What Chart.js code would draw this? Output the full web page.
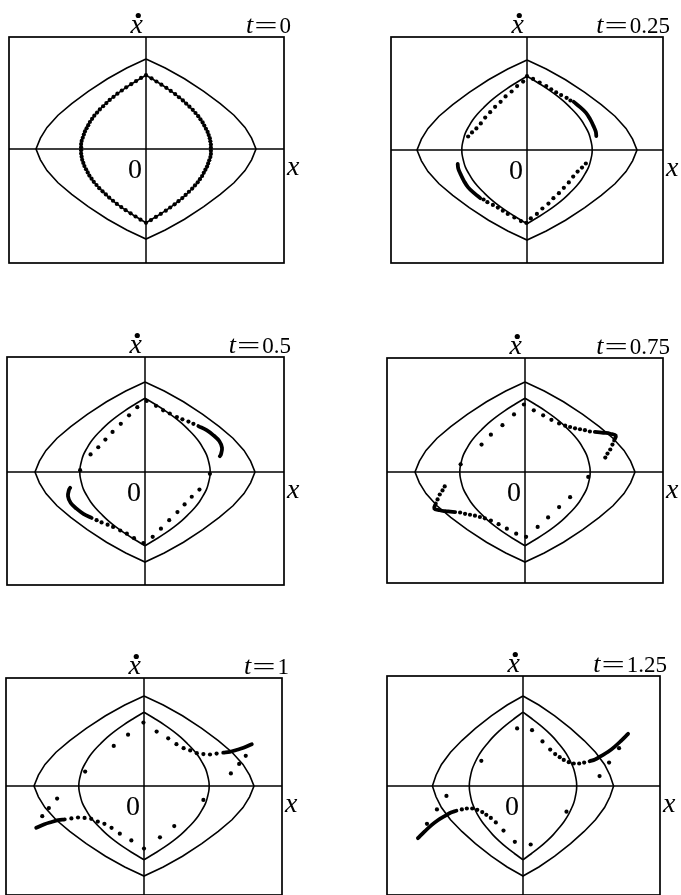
<!DOCTYPE html>
<html>
<head>
<meta charset="utf-8">
<script src="https://cdn.jsdelivr.net/npm/chart.js@4.4.1/dist/chart.umd.min.js"></script>
<style>
  html, body { margin: 0; padding: 0; background: #fff; overflow: hidden; }
  body { width: 681px; height: 895px; position: relative; font-family: "Liberation Serif", serif; }
  canvas { position: absolute; }
  .pre { position: absolute; left: -999px; top: 0; font-family: "Liberation Serif"; }
</style>
</head>
<body>
<span class="pre">0=</span><span class="pre" style="font-style:italic">xt</span>
<canvas id="c1"></canvas>
<canvas id="c2"></canvas>
<canvas id="c3"></canvas>
<canvas id="c4"></canvas>
<canvas id="c5"></canvas>
<canvas id="c6"></canvas>
<script>
// time labels of the six snapshots
const times = ["0", "0.25", "0.5", "0.75", "1", "1.25"];

// outer boundary curve (closed, clockwise from top)
const outerCurve = [
  [0, 2.0], [0.35, 1.80], [0.70, 1.56], [1.05, 1.28], [1.35, 1.01], [1.60, 0.75], [1.80, 0.48], [1.92, 0.24], [2.0, 0],
  [1.92, -0.24], [1.80, -0.48], [1.60, -0.75], [1.35, -1.01], [1.05, -1.28], [0.70, -1.56], [0.35, -1.80], [0, -2.0],
  [-0.35, -1.80], [-0.70, -1.56], [-1.05, -1.28], [-1.35, -1.01], [-1.60, -0.75], [-1.80, -0.48], [-1.92, -0.24], [-2.0, 0],
  [-1.92, 0.24], [-1.80, 0.48], [-1.60, 0.75], [-1.35, 1.01], [-1.05, 1.28], [-0.70, 1.56], [-0.35, 1.80], [0, 2.0]
];

// inner curve, right and left halves (top to bottom)
const innerRight = [
  [0, 1.64], [0.19, 1.50], [0.37, 1.36], [0.53, 1.22], [0.67, 1.08], [0.79, 0.94], [0.90, 0.80], [0.99, 0.66],
  [1.06, 0.52], [1.12, 0.38], [1.155, 0.24], [1.18, 0.10], [1.185, 0],
  [1.18, -0.10], [1.155, -0.24], [1.12, -0.38], [1.06, -0.52], [0.99, -0.66], [0.90, -0.80], [0.79, -0.94],
  [0.67, -1.08], [0.53, -1.22], [0.37, -1.36], [0.19, -1.50], [0, -1.64]
];
const innerLeft = [
  [0, 1.64], [-0.19, 1.50], [-0.37, 1.36], [-0.53, 1.22], [-0.67, 1.08], [-0.79, 0.94], [-0.90, 0.80], [-0.99, 0.66],
  [-1.06, 0.52], [-1.12, 0.38], [-1.155, 0.24], [-1.18, 0.10], [-1.185, 0],
  [-1.18, -0.10], [-1.155, -0.24], [-1.12, -0.38], [-1.06, -0.52], [-0.99, -0.66], [-0.90, -0.80], [-0.79, -0.94],
  [-0.67, -1.08], [-0.53, -1.22], [-0.37, -1.36], [-0.19, -1.50], [0, -1.64]
];

// particle positions at each time
const dots0 = [
  [0, 1.64], [0.10, 1.57], [0.19, 1.50], [0.28, 1.43], [0.37, 1.36], [0.45, 1.29], [0.53, 1.22], [0.60, 1.15],
  [0.67, 1.08], [0.73, 1.01], [0.79, 0.94], [0.85, 0.87], [0.90, 0.80], [0.95, 0.73], [0.99, 0.66], [1.03, 0.59],
  [1.06, 0.52], [1.09, 0.45], [1.12, 0.38], [1.14, 0.31], [1.16, 0.24], [1.17, 0.17], [1.18, 0.10], [1.18, 0.03],
  [1.18, -0.04], [1.18, -0.11], [1.17, -0.18], [1.15, -0.25], [1.13, -0.32], [1.11, -0.39], [1.08, -0.46], [1.05, -0.53],
  [1.02, -0.60], [0.98, -0.67], [0.94, -0.74], [0.89, -0.81], [0.84, -0.88], [0.78, -0.95], [0.72, -1.02], [0.66, -1.09],
  [0.59, -1.16], [0.52, -1.23], [0.44, -1.30], [0.36, -1.37], [0.27, -1.44], [0.18, -1.51], [0.09, -1.58], [0, -1.64],
  [-0.10, -1.57], [-0.19, -1.50], [-0.28, -1.43], [-0.37, -1.36], [-0.45, -1.29], [-0.53, -1.22], [-0.60, -1.15],
  [-0.67, -1.08], [-0.73, -1.01], [-0.79, -0.94], [-0.85, -0.87], [-0.90, -0.80], [-0.95, -0.73], [-0.99, -0.66], [-1.03, -0.59],
  [-1.06, -0.52], [-1.09, -0.45], [-1.12, -0.38], [-1.14, -0.31], [-1.16, -0.24], [-1.17, -0.17], [-1.18, -0.10], [-1.18, -0.03],
  [-1.18, 0.04], [-1.18, 0.11], [-1.17, 0.18], [-1.15, 0.25], [-1.13, 0.32], [-1.11, 0.39], [-1.08, 0.46], [-1.05, 0.53],
  [-1.02, 0.60], [-0.98, 0.67], [-0.94, 0.74], [-0.89, 0.81], [-0.84, 0.88], [-0.78, 0.95], [-0.72, 1.02], [-0.66, 1.09],
  [-0.59, 1.16], [-0.52, 1.23], [-0.44, 1.30], [-0.36, 1.37], [-0.27, 1.44], [-0.18, 1.51], [-0.09, 1.58]
];
const dots025 = [
  [0, 1.64], [0.11, 1.58], [0.23, 1.50], [0.35, 1.42], [0.44, 1.35], [0.53, 1.28], [0.62, 1.22], [0.72, 1.16], [0.79, 1.10],
  [-0.07, 1.52], [-0.18, 1.42], [-0.28, 1.30], [-0.39, 1.19], [-0.48, 1.07], [-0.58, 0.96], [-0.67, 0.84], [-0.76, 0.72],
  [-0.84, 0.59], [-0.92, 0.48], [-1.00, 0.39], [-1.07, 0.30],
  [0.07, -1.52], [0.18, -1.42], [0.28, -1.30], [0.39, -1.19], [0.48, -1.07], [0.58, -0.96], [0.67, -0.84], [0.76, -0.72],
  [0.84, -0.59], [0.92, -0.48], [1.00, -0.39], [1.07, -0.30],
  [-0.01, -1.62], [-0.11, -1.58], [-0.23, -1.50], [-0.35, -1.42], [-0.44, -1.35], [-0.53, -1.28], [-0.62, -1.22], [-0.72, -1.16], [-0.79, -1.10]
];
const dots05 = [
  [0.03, 1.58], [0.20, 1.47], [0.33, 1.37], [0.45, 1.30], [0.58, 1.22], [0.68, 1.17], [0.79, 1.12], [0.88, 1.07],
  [-0.14, 1.44], [-0.29, 1.26], [-0.44, 1.07], [-0.59, 0.89], [-0.72, 0.72], [-0.85, 0.55], [-0.99, 0.39], [-1.18, 0.04],
  [0.14, -1.44], [0.29, -1.26], [0.44, -1.07], [0.59, -0.89], [0.72, -0.72], [0.85, -0.55], [0.99, -0.39], [1.18, -0.04],
  [-0.03, -1.58], [-0.20, -1.47], [-0.33, -1.37], [-0.45, -1.30], [-0.58, -1.22], [-0.68, -1.17], [-0.79, -1.12], [-0.88, -1.07]
];
const dots075 = [
  [-0.02, 1.50], [0.16, 1.37], [0.33, 1.26], [0.48, 1.16], [0.62, 1.08], [0.73, 1.03], [0.82, 1.00], [0.91, 0.97],
  [1.00, 0.95], [1.09, 0.93], [1.18, 0.90], [1.59, 0.61], [1.55, 0.50], [1.50, 0.41], [1.46, 0.32],
  [-0.20, 1.28], [-0.41, 1.04], [-0.62, 0.83], [-0.79, 0.61], [-1.17, 0.17],
  [0.02, -1.44], [0.23, -1.22], [0.42, -1.01], [0.62, -0.78], [0.82, -0.56], [1.15, -0.11],
  [-0.16, -1.37], [-0.33, -1.26], [-0.48, -1.16], [-0.62, -1.08], [-0.73, -1.03], [-0.82, -1.00], [-0.91, -0.97],
  [-1.00, -0.95], [-1.09, -0.93], [-1.18, -0.90], [-1.59, -0.61], [-1.55, -0.50], [-1.50, -0.41], [-1.46, -0.32]
];
const dots1 = [
  [-0.01, 1.41], [0.23, 1.21], [0.44, 1.06], [0.59, 0.93], [0.72, 0.84], [0.84, 0.79], [0.96, 0.73], [1.08, 0.71],
  [1.20, 0.70], [1.32, 0.72], [1.85, 0.67], [1.73, 0.49], [1.58, 0.28],
  [-0.29, 1.14], [-0.55, 0.89], [-1.07, 0.32],
  [1.08, -0.31], [0.55, -0.89], [0.29, -1.14], [0.00, -1.39],
  [-0.23, -1.21], [-0.44, -1.06], [-0.59, -0.93], [-0.72, -0.84], [-0.84, -0.79], [-0.96, -0.73], [-1.08, -0.71],
  [-1.20, -0.70], [-1.32, -0.72], [-1.85, -0.67], [-1.73, -0.49], [-1.58, -0.28]
];
const dots125 = [
  [0.20, 1.24], [0.43, 0.99], [0.60, 0.81], [0.71, 0.71], [0.81, 0.64], [0.90, 0.58], [1.01, 0.53], [1.12, 0.50],
  [1.24, 0.50], [1.35, 0.52], [2.12, 0.84], [1.90, 0.52], [1.69, 0.22],
  [-0.13, 1.28], [-0.92, 0.56],
  [0.96, -0.57], [0.17, -1.30],
  [-0.18, -1.24], [-0.43, -0.99], [-0.60, -0.81], [-0.71, -0.71], [-0.81, -0.64], [-0.90, -0.58], [-1.01, -0.53],
  [-1.12, -0.50], [-1.24, -0.50], [-1.35, -0.52], [-2.12, -0.84], [-1.90, -0.52], [-1.69, -0.22]
];

// dense clusters of particles, drawn as thick strokes
const tails025 = [
  [[0.85, 1.07], [0.96, 0.96], [1.07, 0.83], [1.15, 0.68], [1.21, 0.53], [1.25, 0.41], [1.26, 0.31]],
  [[-0.85, -1.07], [-0.96, -0.96], [-1.07, -0.83], [-1.15, -0.68], [-1.21, -0.53], [-1.25, -0.41], [-1.26, -0.31]]
];
const tails05 = [
  [[0.97, 1.02], [1.12, 0.93], [1.25, 0.81], [1.35, 0.69], [1.40, 0.54], [1.38, 0.39], [1.36, 0.35]],
  [[-0.97, -1.02], [-1.12, -0.93], [-1.25, -0.81], [-1.35, -0.69], [-1.40, -0.54], [-1.38, -0.39], [-1.36, -0.35]]
];
const tails075 = [
  [[1.27, 0.89], [1.36, 0.88], [1.45, 0.87], [1.55, 0.85], [1.65, 0.81], [1.62, 0.70]],
  [[-1.27, -0.89], [-1.36, -0.88], [-1.45, -0.87], [-1.55, -0.85], [-1.65, -0.81], [-1.62, -0.70]]
];
const tails1 = [
  [[1.44, 0.74], [1.56, 0.76], [1.68, 0.80], [1.81, 0.85], [1.96, 0.93]],
  [[-1.44, -0.74], [-1.56, -0.76], [-1.68, -0.80], [-1.81, -0.85], [-1.96, -0.93]]
];
const tails125 = [
  [[1.47, 0.55], [1.59, 0.59], [1.73, 0.67], [1.88, 0.76], [2.02, 0.87], [2.17, 1.01], [2.32, 1.16]],
  [[-1.47, -0.55], [-1.59, -0.59], [-1.73, -0.67], [-1.88, -0.76], [-2.02, -0.87], [-2.17, -1.01], [-2.32, -1.16]]
];

const allDots = [dots0, dots025, dots05, dots075, dots1, dots125];
const allTails = [[], tails025, tails05, tails075, tails1, tails125];

// page layout of each panel: frame box, origin in px, px per unit
const layout = [
  { box: [9, 37, 284, 263],   origin: [146, 149], sx: 55,   sy: 45 },
  { box: [391, 37, 663, 263], origin: [527, 150], sx: 55,   sy: 45 },
  { box: [7, 357, 284, 585],  origin: [145, 472], sx: 55,   sy: 45 },
  { box: [387, 358, 663, 583], origin: [525, 472], sx: 55,  sy: 45 },
  { box: [6, 678, 282, 895],  origin: [144, 786], sx: 55,   sy: 45 },
  { box: [387, 676, 660, 895], origin: [523, 786], sx: 45.3, sy: 45 }
];
const pad = { left: 6, top: 34, right: 26, bottom: 10 };
const INK = "#000";
const SERIF = '"Liberation Serif", "Times New Roman", "DejaVu Serif", serif';

const pts = arr => arr.map(p => ({ x: p[0], y: p[1] }));

const framePlugin = {
  id: "frame",
  beforeDatasetsDraw(chart) {
    const { ctx, chartArea: a, scales } = chart;
    const x0 = scales.x.getPixelForValue(0);
    const y0 = scales.y.getPixelForValue(0);
    ctx.save();
    ctx.strokeStyle = INK;
    ctx.lineWidth = 1.7;
    ctx.strokeRect(a.left, a.top, a.right - a.left, a.bottom - a.top);
    ctx.lineWidth = 1.5;
    ctx.beginPath();
    ctx.moveTo(x0, a.top); ctx.lineTo(x0, a.bottom);
    ctx.moveTo(a.left, y0); ctx.lineTo(a.right, y0);
    ctx.stroke();
    ctx.restore();
  },
  afterDraw(chart, args, opts) {
    const { ctx, chartArea: a, scales } = chart;
    const x0 = scales.x.getPixelForValue(0);
    const y0 = scales.y.getPixelForValue(0);
    const base = a.top - 4;
    ctx.save();
    ctx.fillStyle = INK;
    ctx.textBaseline = "alphabetic";

    // x-dot label on the vertical axis
    ctx.font = "italic 28px " + SERIF;
    ctx.textAlign = "right";
    const wx = ctx.measureText("x").width;
    ctx.fillText("x", x0 - 3, base);
    ctx.beginPath();
    ctx.arc(x0 - 3 - wx / 2 + 1.5, base - 17.5, 2.6, 0, Math.PI * 2);
    ctx.fill();

    // x label on the horizontal axis
    ctx.textAlign = "left";
    ctx.fillText("x", a.right + 3, y0 + 26);

    // origin
    ctx.font = "28px " + SERIF;
    ctx.textAlign = "right";
    ctx.fillText("0", x0 - 4, y0 + 29);

    // t = value
    const right = a.right + 7;
    ctx.textAlign = "left";
    ctx.font = "23px " + SERIF;
    const numW = ctx.measureText(opts.t).width;
    ctx.fillText(opts.t, right - numW, base);
    const eqW = ctx.measureText("=").width * 1.8;
    ctx.save();
    ctx.translate(right - numW - 2 - eqW, base);
    ctx.scale(1.8, 1);
    ctx.fillText("=", 0, 0);
    ctx.restore();
    ctx.font = "italic 26px " + SERIF;
    const tW = ctx.measureText("t").width;
    ctx.fillText("t", right - numW - 3 - eqW - tW, base);
    ctx.restore();
  }
};

function drawAll() {
  times.forEach(function (t, i) {
    const L = layout[i];
    const [bl, bt, br, bb] = L.box;
    const [ox, oy] = L.origin;
    const canvas = document.getElementById("c" + (i + 1));
    const w = br - bl + pad.left + pad.right;
    const h = bb - bt + pad.top + pad.bottom;
    canvas.width = w; canvas.height = h;
    canvas.style.width = w + "px"; canvas.style.height = h + "px";
    canvas.style.left = (bl - pad.left) + "px";
    canvas.style.top = (bt - pad.top) + "px";

    const curveStyle = { showLine: true, pointRadius: 0, borderColor: INK, borderWidth: 1.6, fill: false };
    const datasets = [
      Object.assign({ data: pts(outerCurve), tension: 0 }, curveStyle),
      Object.assign({ data: pts(innerRight), tension: 0.4 }, curveStyle),
      Object.assign({ data: pts(innerLeft), tension: 0.4 }, curveStyle)
    ];
    allTails[i].forEach(function (tail) {
      datasets.push({
        data: pts(tail), showLine: true, pointRadius: 0, borderColor: INK,
        borderWidth: 3.8, tension: 0.4, borderCapStyle: "round", borderJoinStyle: "round"
      });
    });
    datasets.push({
      data: pts(allDots[i]), showLine: false, pointRadius: 2.1,
      pointBorderWidth: 0, backgroundColor: INK, borderColor: INK
    });

    new Chart(canvas.getContext("2d"), {
      type: "scatter",
      data: { datasets: datasets },
      options: {
        responsive: false,
        animation: false,
        devicePixelRatio: 1,
        layout: { padding: pad },
        scales: {
          x: { type: "linear", display: false, min: (bl - ox) / L.sx, max: (br - ox) / L.sx },
          y: { type: "linear", display: false, min: (oy - bb) / L.sy, max: (oy - bt) / L.sy }
        },
        plugins: {
          legend: { display: false },
          tooltip: { enabled: false },
          frame: { t: t }
        }
      },
      plugins: [framePlugin]
    });
  });
}

// make sure the serif faces are ready before the canvases use them
Promise.all([
  document.fonts.load('28px "Liberation Serif"'),
  document.fonts.load('italic 28px "Liberation Serif"')
]).then(drawAll, drawAll);
</script>
</body>
</html>
